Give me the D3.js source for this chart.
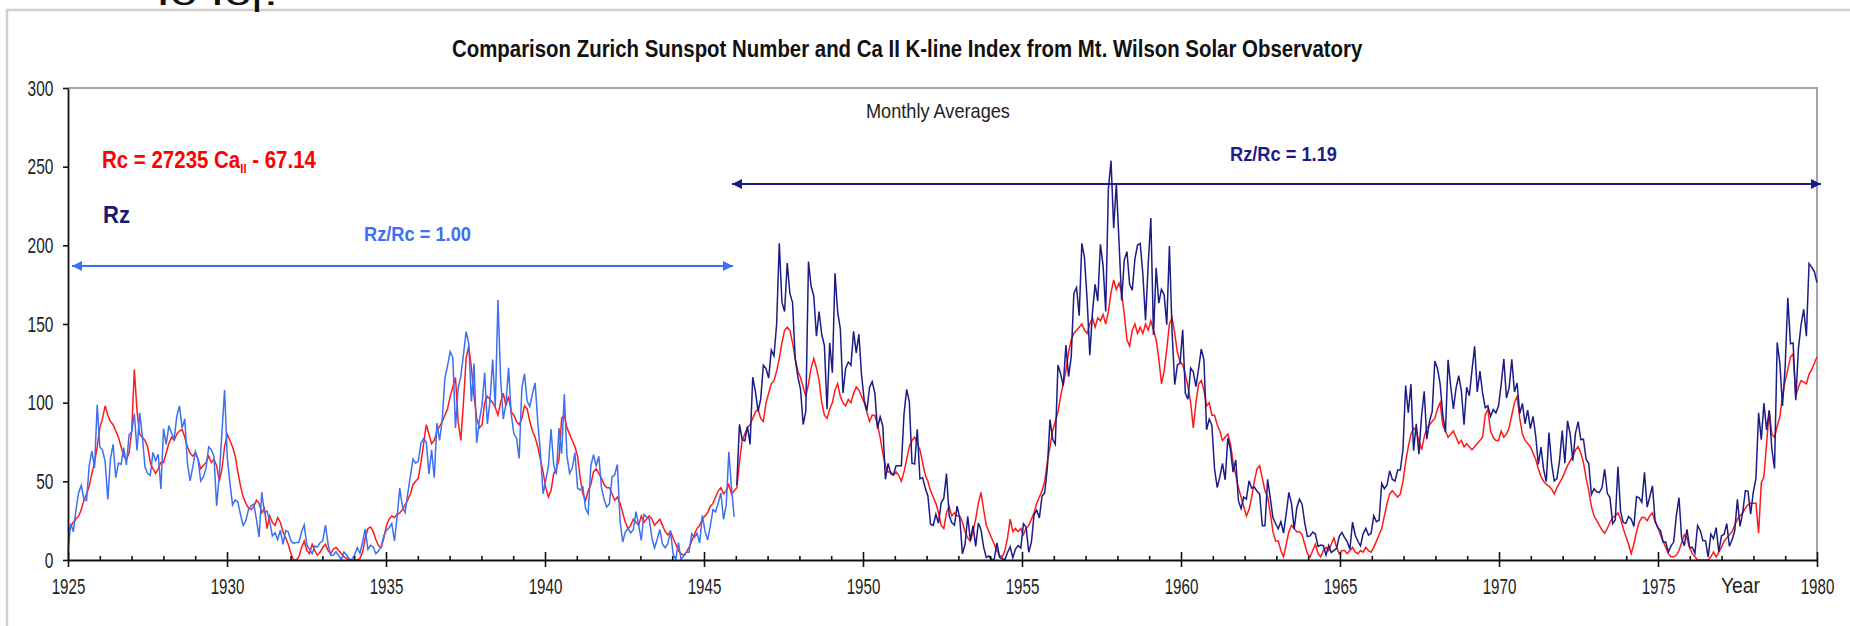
<!DOCTYPE html>
<meta charset="utf-8">
<style>
  body { margin: 0; background: #fff; }
  svg { display: block; font-family: "Liberation Sans", Arial, sans-serif; }
  .axis text { fill: #222; }
  .axis path, .axis line { stroke: #111; }
</style>
<body>
<script src="https://cdn.jsdelivr.net/npm/d3@7"></script>
<script>

    // monthly Zurich sunspot number Rz, Jan 1925 .. Dec 1979 (one row per year)
    var rz = [
        5.5, 23.2, 18.0, 31.7, 42.8, 47.5, 38.5, 37.9, 60.2, 69.2, 58.6, 98.6,
        71.8, 69.9, 62.5, 38.5, 64.3, 73.5, 52.3, 61.6, 60.8, 71.5, 60.5, 79.4,
        81.6, 93.0, 69.6, 93.5, 79.1, 59.1, 54.9, 53.8, 68.4, 63.1, 67.2, 45.2,
        83.5, 73.5, 85.4, 80.6, 76.9, 91.4, 98.0, 83.8, 89.7, 61.4, 50.3, 59.0,
        68.9, 64.1, 50.2, 52.8, 58.2, 71.9, 70.2, 65.8, 34.4, 54.0, 81.1, 108.0,
        65.3, 49.2, 35.0, 38.2, 36.8, 28.8, 21.9, 24.9, 32.1, 34.4, 35.6, 25.8,
        14.6, 43.1, 30.0, 31.2, 24.6, 15.3, 17.4, 13.0, 19.0, 10.0, 18.7, 17.8,
        12.1, 10.6, 11.2, 11.2, 17.9, 22.2, 9.6, 6.8, 4.0, 8.9, 8.2, 11.0,
        12.3, 22.2, 10.1, 2.9, 3.2, 5.2, 2.8, 0.2, 5.1, 3.0, 0.6, 0.3,
        3.4, 7.8, 4.3, 11.3, 19.7, 6.7, 9.3, 8.3, 4.0, 5.7, 8.7, 15.4,
        18.9, 20.5, 23.1, 12.2, 27.3, 45.7, 33.9, 30.1, 42.1, 53.2, 64.2, 61.5,
        62.8, 74.3, 77.1, 74.9, 54.6, 70.0, 52.3, 87.0, 76.0, 89.0, 115.4, 123.4,
        132.5, 128.5, 83.9, 109.3, 116.7, 130.3, 145.1, 137.7, 100.7, 124.9, 74.4, 88.8,
        98.4, 119.2, 86.5, 101.0, 127.4, 97.5, 165.3, 115.7, 89.6, 99.1, 122.2, 92.7,
        80.3, 77.4, 64.6, 109.1, 118.3, 101.0, 97.6, 105.8, 112.6, 88.1, 68.1, 42.1,
        50.5, 59.4, 83.3, 60.7, 54.4, 83.9, 67.5, 105.5, 66.5, 55.0, 58.4, 68.3,
        45.6, 44.5, 46.4, 32.8, 29.5, 59.8, 66.9, 60.0, 65.9, 46.3, 38.4, 33.7,
        35.6, 52.8, 54.2, 60.7, 25.0, 11.4, 17.7, 20.2, 17.2, 19.2, 30.7, 22.5,
        12.4, 28.9, 27.4, 26.1, 14.1, 7.6, 13.2, 19.4, 10.0, 7.8, 10.2, 18.8,
        3.7, 0.5, 11.0, 0.3, 2.5, 5.0, 5.0, 16.7, 14.3, 16.9, 10.8, 28.4,
        18.5, 12.7, 21.5, 32.0, 30.6, 36.2, 42.6, 25.9, 34.9, 68.8, 46.0, 27.4,
        47.6, 86.2, 76.6, 75.7, 84.9, 73.5, 116.2, 107.2, 94.4, 102.3, 123.8, 121.7,
        115.7, 133.4, 129.8, 149.8, 201.3, 163.9, 157.9, 188.8, 169.4, 163.6, 128.0, 116.5,
        108.5, 86.1, 94.8, 189.7, 174.0, 167.8, 142.2, 157.9, 143.3, 136.3, 95.8, 138.0,
        119.1, 182.3, 157.5, 147.0, 106.2, 121.7, 125.8, 123.8, 145.3, 131.6, 143.5, 117.6,
        101.6, 94.8, 109.7, 113.4, 106.2, 83.6, 91.0, 85.2, 51.3, 61.4, 54.8, 54.1,
        59.9, 59.9, 59.9, 92.9, 108.5, 100.6, 61.5, 61.0, 83.1, 51.6, 52.4, 45.8,
        40.7, 22.7, 22.0, 29.1, 23.4, 36.4, 39.3, 54.9, 28.2, 23.8, 22.1, 34.3,
        26.5, 3.9, 10.0, 27.8, 12.5, 21.8, 8.6, 23.5, 19.3, 8.2, 1.6, 2.5,
        0.2, 0.5, 10.9, 1.8, 0.8, 0.2, 4.8, 8.4, 1.5, 7.0, 9.2, 7.6,
        23.1, 20.8, 4.9, 11.3, 28.9, 31.7, 26.7, 40.7, 42.7, 58.5, 89.2, 76.9,
        73.6, 124.0, 118.4, 110.7, 136.6, 116.6, 129.1, 169.6, 173.2, 155.3, 201.3, 192.1,
        165.0, 130.2, 157.4, 175.2, 164.6, 200.7, 187.2, 158.0, 235.8, 253.8, 210.9, 239.4,
        202.5, 164.9, 190.7, 196.0, 175.3, 171.5, 191.4, 200.2, 201.2, 181.5, 152.3, 187.6,
        217.4, 143.1, 185.7, 163.3, 172.0, 168.7, 149.6, 199.6, 145.2, 111.4, 124.0, 125.0,
        146.3, 106.0, 102.2, 122.0, 119.6, 110.2, 121.7, 134.1, 127.2, 82.8, 89.6, 85.6,
        57.9, 46.1, 53.0, 61.4, 51.0, 77.4, 70.2, 55.9, 63.6, 37.7, 32.6, 40.0,
        38.7, 50.3, 45.6, 46.4, 43.7, 42.0, 21.8, 21.8, 51.3, 39.5, 26.9, 23.2,
        19.8, 24.4, 17.1, 29.3, 43.0, 35.9, 19.6, 33.2, 38.8, 35.3, 23.4, 14.9,
        15.3, 17.7, 16.5, 8.6, 9.5, 9.1, 3.1, 9.3, 4.7, 6.1, 7.4, 15.1,
        17.5, 14.2, 11.7, 6.8, 24.1, 15.9, 11.9, 8.9, 16.8, 20.1, 15.8, 17.0,
        28.2, 24.4, 25.3, 48.7, 45.3, 47.7, 56.7, 51.2, 50.2, 57.2, 57.2, 70.4,
        110.9, 93.6, 111.8, 69.5, 86.5, 67.3, 91.5, 107.2, 76.8, 88.2, 94.3, 126.4,
        121.8, 111.9, 92.2, 81.2, 127.2, 110.3, 96.1, 109.3, 117.2, 107.7, 86.0, 109.8,
        104.4, 120.5, 135.8, 106.8, 120.0, 106.0, 96.8, 98.0, 91.3, 95.7, 93.5, 97.9,
        111.5, 127.8, 102.9, 109.5, 127.5, 106.8, 112.5, 93.0, 99.5, 86.6, 95.2, 83.5,
        91.3, 79.0, 60.7, 71.8, 57.5, 49.8, 81.0, 61.4, 50.2, 51.7, 63.2, 82.2,
        61.5, 88.4, 80.1, 63.2, 80.5, 88.0, 76.5, 76.8, 64.0, 61.3, 41.6, 45.3,
        43.4, 42.9, 46.0, 57.7, 42.4, 39.5, 23.1, 25.6, 59.3, 30.7, 23.9, 23.3,
        27.6, 26.0, 21.3, 40.3, 39.5, 36.6, 55.8, 33.6, 40.2, 47.1, 25.0, 20.5,
        18.9, 11.5, 11.5, 5.1, 9.0, 11.4, 28.2, 39.7, 13.9, 9.1, 19.4, 7.8,
        8.1, 4.3, 21.9, 18.8, 12.4, 12.2, 1.9, 16.4, 13.5, 20.6, 5.2, 15.3,
        16.4, 23.1, 8.7, 12.9, 18.6, 38.5, 21.4, 30.1, 44.0, 43.8, 29.1, 43.2,
        51.9, 93.6, 76.5, 99.7, 82.7, 95.1, 70.4, 58.1, 138.2, 125.1, 97.9, 122.7,
        166.6, 137.5, 138.0, 101.5, 134.4, 149.5, 159.4, 142.2, 188.4, 186.2, 183.3, 176.3
    ];

    // Rc from the Ca II K index, same months
    var rc = [
        18, 21, 24, 26, 28, 32, 38, 42, 47, 55, 62, 72,
        84, 90, 98, 92, 88, 86, 82, 78, 72, 66, 64, 68,
        82, 121, 95, 80, 78, 76, 72, 62, 58, 55, 58, 62,
        62, 68, 74, 78, 76, 80, 82, 83, 78, 72, 68, 66,
        68, 64, 58, 60, 62, 66, 62, 64, 60, 50, 58, 72,
        80, 76, 72, 66, 56, 47, 40, 36, 33, 32, 34, 38,
        36, 30, 33, 20, 28, 24, 22, 27, 24, 18, 14, 10,
        4, 0, 0, 2, 8, 12, 6, 4, 10, 6, 3, 5,
        8, 10, 6, 4, 7, 8, 6, 4, 2, 1, 0, 0,
        0, 0, 1, 5, 14, 20, 21, 18, 13, 9, 8, 14,
        22, 26, 28, 27, 29, 30, 32, 35, 38, 42, 48, 50,
        52, 62, 74, 86, 80, 74, 76, 82, 85, 88, 92, 96,
        104, 110, 116, 88, 76, 100, 128, 136, 122, 104, 90, 84,
        86, 100, 104, 102, 100, 97, 92, 100, 106, 98, 104, 94,
        92, 88, 86, 90, 98, 96, 88, 82, 78, 72, 64, 56,
        46, 40, 44, 55, 58, 64, 90, 92, 84, 80, 76, 72,
        66, 52, 42, 38, 44, 48, 56, 58, 55, 52, 48, 46,
        46, 42, 38, 40, 36, 30, 24, 20, 22, 26, 24, 22,
        28, 24, 26, 28, 26, 22, 24, 26, 22, 18, 16, 18,
        14, 10, 6, 4, 3, 5, 8, 12, 16, 20, 22, 26,
        28, 30, 34, 36, 40, 44, 46, 42, 44, 48, 42, 44,
        46, 62, 76, 80, 84, 86, 90, 94, 96, 90, 88, 100,
        106, 112, 114, 120, 128, 138, 146, 148, 146, 138, 128, 120,
        116, 110, 104, 112, 122, 128, 122, 114, 100, 92, 90, 96,
        100, 108, 112, 104, 100, 98, 102, 100, 106, 110, 108, 104,
        100, 94, 88, 92, 92, 86, 78, 68, 60, 56, 56, 54,
        56, 54, 50, 56, 64, 72, 76, 78, 74, 70, 62, 54,
        50, 44, 40, 36, 30, 22, 20, 30, 34, 28, 30, 28,
        28, 24, 18, 14, 12, 18, 26, 36, 43, 32, 22, 18,
        14, 10, 6, 3, 2, 6, 14, 26, 18, 20, 18, 20,
        16, 20, 22, 26, 30, 36, 40, 44, 50, 62, 72, 82,
        88, 94, 104, 112, 120, 132, 140, 144, 146, 148, 150, 146,
        144, 150, 154, 148, 154, 152, 156, 150, 158, 170, 178, 172,
        176, 170, 156, 140, 136, 146, 150, 144, 148, 144, 150, 146,
        152, 146, 140, 128, 112, 120, 134, 150, 154, 144, 132, 126,
        124, 118, 110, 100, 84, 100, 112, 114, 108, 98, 100, 92,
        92, 86, 82, 76, 78, 80, 74, 62, 54, 46, 40, 34,
        28, 32, 40, 50, 58, 60, 52, 44, 40, 30, 18, 12,
        12, 6, 2, 10, 18, 22, 20, 18, 18, 16, 10, 4,
        2, 6, 10, 4, 2, 6, 8, 6, 10, 14, 8, 4,
        6, 6, 4, 6, 8, 5, 4, 6, 5, 8, 6, 5,
        8, 12, 16, 20, 28, 36, 42, 44, 42, 40, 42, 50,
        62, 72, 80, 84, 82, 76, 70, 78, 84, 86, 88, 90,
        96, 100, 86, 82, 78, 80, 82, 78, 74, 76, 72, 74,
        72, 70, 72, 74, 76, 78, 92, 96, 82, 78, 76, 76,
        82, 78, 80, 84, 92, 100, 104, 90, 80, 76, 74, 72,
        68, 64, 58, 53, 50, 48, 47, 45, 42, 46, 49, 52,
        56, 60, 63, 66, 70, 72, 68, 62, 52, 44, 34, 28,
        25, 22, 19, 17, 20, 24, 27, 28, 30, 26, 20, 15,
        10, 4, 10, 18, 24, 27, 27, 25, 28, 30, 24, 21,
        16, 12, 8, 4, 2, 2, 3, 6, 11, 16, 14, 8,
        4, 2, 0, 0, 0, 0, 0, 2, 5, 2, 5, 8,
        12, 14, 16, 18, 22, 26, 28, 30, 33, 35, 36, 36,
        36, 17, 49, 53, 74, 95, 80, 78, 85, 91, 104, 114,
        121, 129, 131, 104, 110, 114, 113, 112, 118, 121, 125, 129
    ];

    var splitIndex = 252;              // Rz drawn light blue before 1946, navy after
    var yTicks = [0, 50, 100, 150, 200, 250, 300];
    var yearTicks = [1925, 1930, 1935, 1940, 1945, 1950, 1955, 1960, 1965, 1970, 1975, 1980];
    var titleText = "Comparison Zurich Sunspot Number and Ca II K-line Index from Mt. Wilson Solar Observatory";

    var colors = {red: "#ff1a1a", blue: "#3d6ff2", navy: "#1c1c86"};

    var dim = {width: 1850, height: 626, left: 68, right: 1817, top: 88, bottom: 560};

    var x = d3.scaleLinear().domain([1925, 1980]).range([dim.left, dim.right]);
    var y = d3.scaleLinear().domain([0, 300]).range([dim.bottom, dim.top]);
    var xi = d3.scaleLinear().domain([0, rz.length - 1]).range([x(1925), x(1980)]);

    var svg = d3.select("body").append("svg")
        .attr("width", dim.width)
        .attr("height", dim.height);

    var defs = svg.append("defs");
    function marker(id, color, dir) {
        defs.append("marker")
            .attr("id", id)
            .attr("markerUnits", "userSpaceOnUse")
            .attr("viewBox", "0 0 10 10")
            .attr("refX", dir > 0 ? 10 : 0).attr("refY", 5)
            .attr("markerWidth", 11).attr("markerHeight", 10)
            .attr("orient", "0")
          .append("path")
            .attr("d", dir > 0 ? "M0,0L10,5L0,10Z" : "M10,0L0,5L10,10Z")
            .attr("fill", color);
    }
    marker("blueR", colors.blue, 1);
    marker("blueL", colors.blue, -1);
    marker("navyR", colors.navy, 1);
    marker("navyL", colors.navy, -1);

    // outer chart frame
    svg.append("path")
        .attr("d", "M7,626V10H1850")
        .attr("fill", "none")
        .attr("stroke", "#cfcfcf")
        .attr("stroke-width", 2.5);

    // clipped piece of a heading above the chart
    svg.append("text")
        .attr("x", 156).attr("y", 5)
        .attr("font-size", 34)
        .attr("fill", "#111")
        .attr("textLength", 122)
        .attr("lengthAdjust", "spacingAndGlyphs")
        .text("Ic Ic|.");

    // plot frame (top and right)
    svg.append("path")
        .attr("d", "M" + dim.left + "," + dim.top + "H" + dim.right + "V" + dim.bottom)
        .attr("fill", "none")
        .attr("stroke", "#a6a6a6")
        .attr("stroke-width", 2);

    // text helper: fit text to a measured width by squeezing it horizontally
    function label(parts, opt) {
        var g = svg.append("g").attr("transform", "translate(" + opt.x + "," + opt.y + ")");
        var inner = g.append("g");
        var t = inner.append("text")
            .attr("font-size", opt.size)
            .attr("font-weight", opt.weight || "normal")
            .attr("fill", opt.color);
        parts.forEach(function(p) {
            var ts = t.append("tspan").text(p.text);
            if (p.sub) ts.attr("font-size", opt.size * 0.55).attr("dy", opt.size * 0.22);
            if (p.after) ts.attr("dy", -opt.size * 0.22);
        });
        var w = t.node().getComputedTextLength();
        inner.attr("transform", "scale(" + (opt.width / w) + ",1)");
        return g;
    }

    label([{text: titleText}], {x: 452, y: 56.5, size: 24, weight: "bold", color: "#111", width: 911});
    label([{text: "Monthly Averages"}], {x: 866, y: 117.5, size: 20, color: "#222", width: 144});
    label([{text: "Rc = 27235 Ca"}, {text: "II", sub: true}, {text: " - 67.14", after: true}],
          {x: 102, y: 168, size: 24, weight: "bold", color: "#ff0000", width: 214});
    label([{text: "Rz"}], {x: 103, y: 223, size: 24, weight: "bold", color: "#1a1a70", width: 27});
    label([{text: "Rz/Rc = 1.00"}], {x: 364, y: 241, size: 21, weight: "bold", color: "#3d6ff2", width: 107});
    label([{text: "Rz/Rc = 1.19"}], {x: 1230, y: 161, size: 21, weight: "bold", color: "#1c1c86", width: 107});
    label([{text: "Year"}], {x: 1721, y: 593, size: 22, color: "#222", width: 39});

    // ratio arrows
    svg.append("line")
        .attr("x1", 72).attr("x2", 733).attr("y1", 266).attr("y2", 266)
        .attr("stroke", colors.blue).attr("stroke-width", 2)
        .attr("marker-start", "url(#blueL)").attr("marker-end", "url(#blueR)");
    svg.append("line")
        .attr("x1", 732).attr("x2", 1821).attr("y1", 184).attr("y2", 184)
        .attr("stroke", colors.navy).attr("stroke-width", 2)
        .attr("marker-start", "url(#navyL)").attr("marker-end", "url(#navyR)");

    // series
    var line = d3.line()
        .x(function(d) { return xi(d.i); })
        .y(function(d) { return y(d.v); });

    var rcPts = rc.map(function(v, i) { return {i: i, v: v}; });
    var rzPts = rz.map(function(v, i) { return {i: i, v: v}; });

    svg.append("path")
        .datum(rcPts)
        .attr("d", line)
        .attr("fill", "none").attr("stroke", colors.red).attr("stroke-width", 1.5);
    svg.append("path")
        .datum(rzPts.slice(0, splitIndex))
        .attr("d", line)
        .attr("fill", "none").attr("stroke", colors.blue).attr("stroke-width", 1.5);
    svg.append("path")
        .datum(rzPts.slice(splitIndex))
        .attr("d", line)
        .attr("fill", "none").attr("stroke", colors.navy).attr("stroke-width", 1.5);

    // y axis
    var yAxis = svg.append("g")
        .attr("class", "axis")
        .attr("transform", "translate(" + dim.left + ",0)")
        .call(d3.axisLeft(y).tickValues(yTicks).tickSize(5).tickSizeOuter(0).tickPadding(9.6));
    yAxis.select(".domain").attr("stroke-width", 1.8);
    yAxis.selectAll("text")
        .attr("font-size", 22)
        .attr("font-family", "Liberation Sans, Arial, sans-serif")
        .attr("textLength", function(d) { return String(d).length * 8.6; })
        .attr("lengthAdjust", "spacingAndGlyphs");

    // x axis: major ticks cross the line, minor ticks point up
    var minorYears = d3.range(1926, 1980).filter(function(v) { return v % 5 !== 0; });
    var xUp = svg.append("g")
        .attr("class", "axis")
        .attr("transform", "translate(0," + dim.bottom + ")")
        .call(d3.axisTop(x).tickValues(yearTicks).tickSize(8).tickSizeOuter(0).tickFormat(""));
    xUp.select(".domain").remove();
    var xMinor = svg.append("g")
        .attr("class", "axis")
        .attr("transform", "translate(0," + dim.bottom + ")")
        .call(d3.axisTop(x).tickValues(minorYears).tickSize(4).tickSizeOuter(0).tickFormat(""));
    xMinor.select(".domain").remove();
    var xAxis = svg.append("g")
        .attr("class", "axis")
        .attr("transform", "translate(0," + dim.bottom + ")")
        .call(d3.axisBottom(x).tickValues(yearTicks).tickSize(7).tickSizeOuter(0)
              .tickPadding(11.5).tickFormat(d3.format("d")));
    xAxis.select(".domain").attr("stroke-width", 2.2);
    svg.selectAll(".axis line").attr("stroke-width", 1.6);
    xAxis.selectAll("text")
        .attr("font-size", 22)
        .attr("font-family", "Liberation Sans, Arial, sans-serif")
        .attr("textLength", 33.6)
        .attr("lengthAdjust", "spacingAndGlyphs");

</script>
